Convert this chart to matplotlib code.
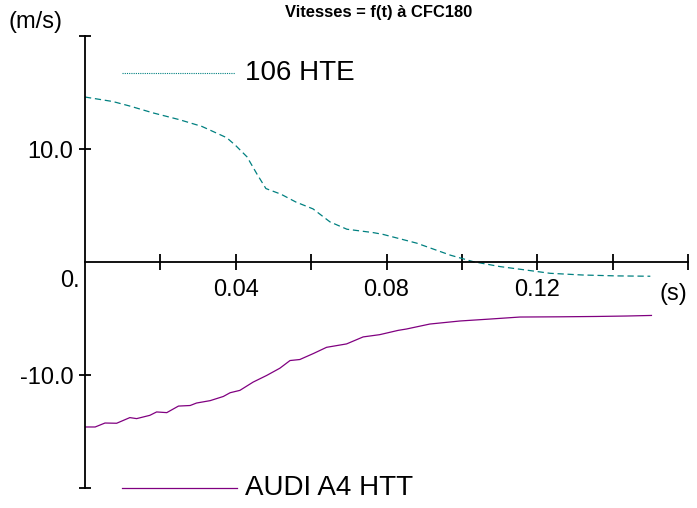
import matplotlib
matplotlib.use("Agg")
import matplotlib.pyplot as plt

plt.rcParams['font.family'] = ['Liberation Sans', 'DejaVu Sans']

# 106 HTE (teal, dashed)
t_106 = [0, 0.0074, 0.0119, 0.018, 0.025, 0.031, 0.0376, 0.040, 0.043, 0.0456,
         0.048, 0.052, 0.056, 0.0605, 0.065, 0.0695, 0.0765, 0.079, 0.088, 0.097,
         0.103, 0.110, 0.119, 0.1234, 0.132, 0.141, 0.150]
v_106 = [14.6, 14.2, 13.8, 13.2, 12.6, 12.0, 11.0, 10.3, 9.3, 7.8,
         6.5, 6.0, 5.3, 4.7, 3.55, 2.9, 2.6, 2.45, 1.67, 0.6,
         0.03, -0.4, -0.8, -1.0, -1.15, -1.23, -1.26]

# AUDI A4 HTT (purple, solid)
t_audi = [0, 0.0027, 0.0053, 0.0084, 0.0119, 0.0137, 0.0172, 0.019, 0.0217, 0.0248,
          0.0279, 0.0296, 0.0332, 0.0367, 0.0385, 0.0411, 0.0446, 0.0482, 0.0517, 0.0544,
          0.057, 0.0606, 0.0641, 0.0694, 0.0738, 0.0782, 0.0831, 0.0853, 0.0915, 0.0995,
          0.1074, 0.1154, 0.126, 0.1357, 0.1437, 0.1503]
v_audi = [-14.6, -14.6, -14.25, -14.27, -13.77, -13.86, -13.57, -13.27, -13.33, -12.75,
          -12.7, -12.48, -12.27, -11.9, -11.57, -11.36, -10.63, -10.04, -9.4, -8.72,
          -8.63, -8.1, -7.55, -7.25, -6.63, -6.43, -6.05, -5.93, -5.49, -5.22,
          -5.05, -4.87, -4.85, -4.82, -4.78, -4.73]

x_ticks = [0.02, 0.04, 0.06, 0.08, 0.10, 0.12, 0.14, 0.16]
x_labels = ['', '0.04', '', '0.08', '', '0.12', '', '']
y_ticks = [-20, -10, 10, 20]
y_labels = ['', '-10.0', '10.0', '']

teal = '#008080'
purple = '#800080'

fig = plt.figure(figsize=(6.97, 5.08), dpi=100)
ax = fig.add_axes([85 / 697, 20 / 508, 603 / 697, 452 / 508])

ax.plot(t_106, v_106, color=teal, lw=0.9, dashes=(5, 3))
ax.plot(t_audi, v_audi, color=purple, lw=0.9)

ax.set_xlim(0, 0.16)
ax.set_ylim(-20, 20)

ax.spines['top'].set_visible(False)
ax.spines['right'].set_visible(False)
ax.spines['bottom'].set_position(('data', 0))
ax.spines['left'].set_linewidth(1.3)
ax.spines['bottom'].set_linewidth(1.3)

ax.set_xticks(x_ticks)
ax.set_xticklabels(x_labels)
ax.set_yticks(y_ticks)
ax.set_yticklabels(y_labels)
ax.tick_params(axis='x', direction='inout', length=12, width=1.3, labelsize=17, pad=6.5)
ax.tick_params(axis='y', direction='inout', length=9, width=1.3, labelsize=17, pad=4)

ax.annotate('0.', xy=(0, 0), xytext=(-4, -6), textcoords='offset points',
            ha='right', va='top', fontsize=17)

# legend drawn by hand, like the original
ax.plot([0.061, 0.249], [0.918, 0.918], transform=ax.transAxes, color=teal,
        lw=0.8, ls=(0, (1, 1)), clip_on=False)
ax.text(0.265, 0.918, '106 HTE', transform=ax.transAxes, fontsize=20, va='center')
ax.plot([0.061, 0.252], [0.0, 0.0], transform=ax.transAxes, color=purple,
        lw=0.9, clip_on=False)
ax.text(0.265, 0.0, 'AUDI A4 HTT', transform=ax.transAxes, fontsize=20, va='center')

fig.text(379 / 697, 1 - 12 / 508, 'Vitesses = f(t) à CFC180', ha='center', va='center',
         fontsize=11.9, fontweight='bold')
fig.text(8 / 697, 1 - 22 / 508, '(m/s)', ha='left', va='center', fontsize=17)
fig.text(687 / 697, 1 - 294 / 508, '(s)', ha='right', va='center', fontsize=17)

fig.savefig('out.png', dpi=100)
